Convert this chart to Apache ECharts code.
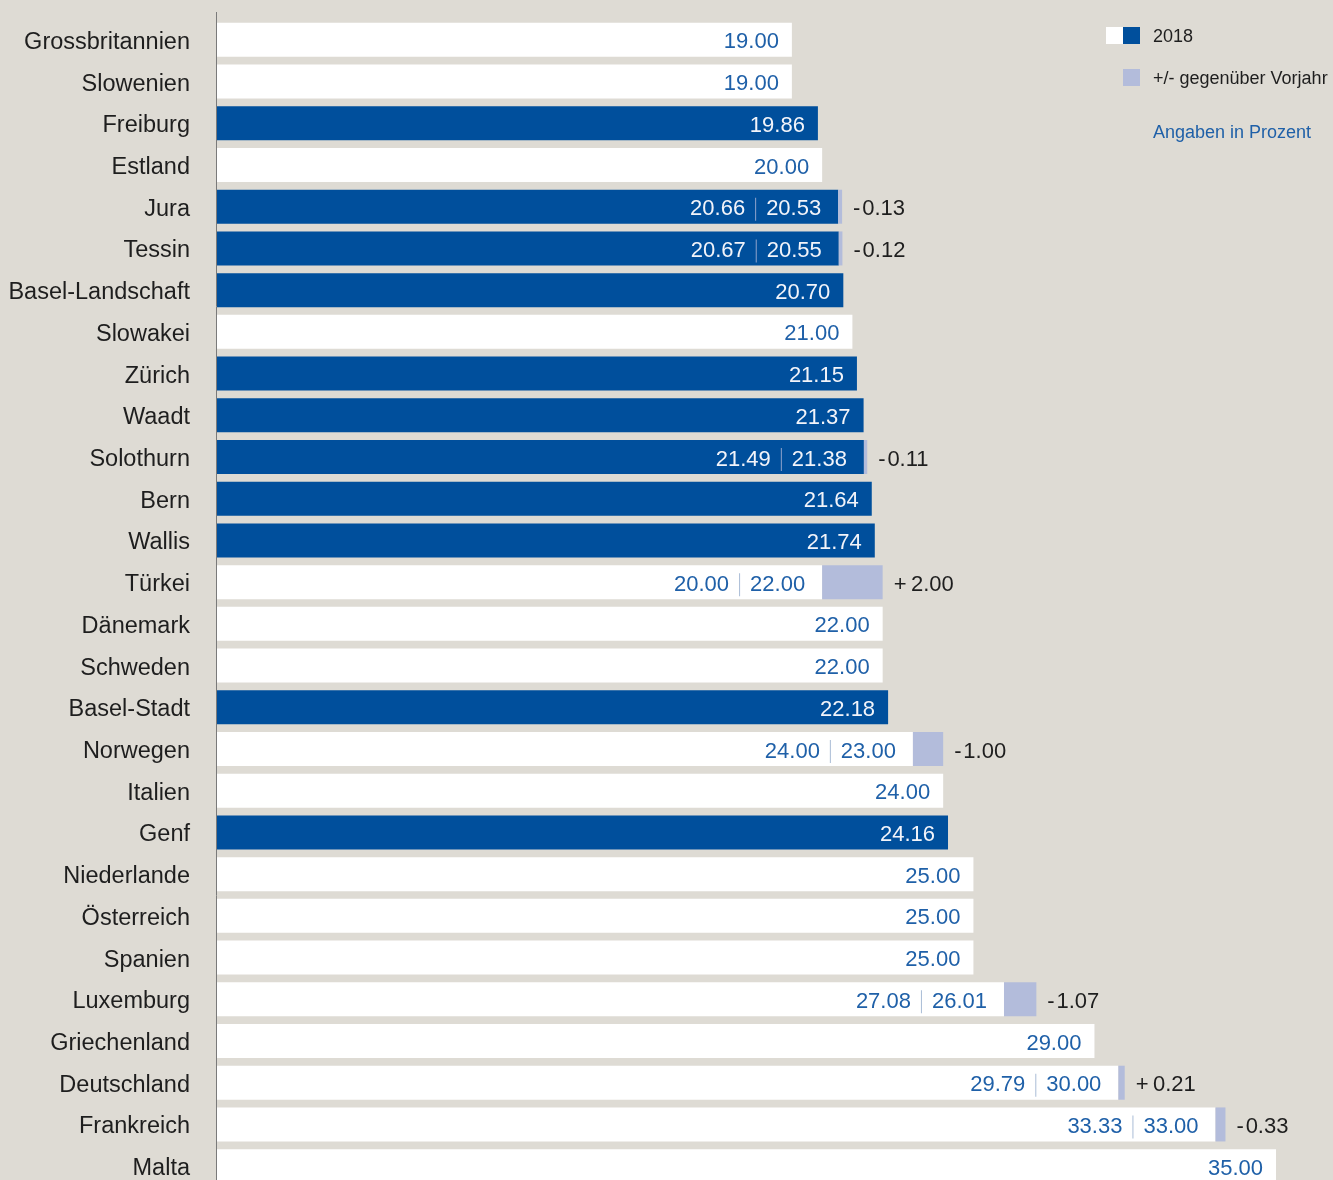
<!DOCTYPE html>
<html>
<head>
<meta charset="utf-8">
<script src="https://cdn.jsdelivr.net/npm/echarts@6/dist/echarts.min.js"></script>
<style>
  html, body { margin: 0; padding: 0; overflow: hidden; background: #dedbd4; }
  #chart { width: 1333px; height: 1190px; }
</style>
</head>
<body>
<div id="chart"></div>
<script>
// Steuersätze (Gewinnsteuer) 2018, Kantone und Länder
const categories = [
  'Grossbritannien', 'Slowenien', 'Freiburg', 'Estland', 'Jura', 'Tessin',
  'Basel-Landschaft', 'Slowakei', 'Zürich', 'Waadt', 'Solothurn', 'Bern',
  'Wallis', 'Türkei', 'Dänemark', 'Schweden', 'Basel-Stadt', 'Norwegen',
  'Italien', 'Genf', 'Niederlande', 'Österreich', 'Spanien', 'Luxemburg',
  'Griechenland', 'Deutschland', 'Frankreich', 'Malta'
];
// Werte 2018
const rate2018 = [
  19.00, 19.00, 19.86, 20.00, 20.53, 20.55,
  20.70, 21.00, 21.15, 21.37, 21.38, 21.64,
  21.74, 22.00, 22.00, 22.00, 22.18, 23.00,
  24.00, 24.16, 25.00, 25.00, 25.00, 26.01,
  29.00, 30.00, 33.00, 35.00
];
// Werte Vorjahr (nur wo eine Veränderung besteht)
const ratePrev = [
  null, null, null, null, 20.66, 20.67,
  null, null, null, null, 21.49, null,
  null, 20.00, null, null, null, 24.00,
  null, null, null, null, null, 27.08,
  null, 29.79, 33.33, null
];
// Schweizer Kantone (dunkelblau dargestellt)
const cantons = [
  'Freiburg', 'Jura', 'Tessin', 'Basel-Landschaft', 'Zürich', 'Waadt',
  'Solothurn', 'Bern', 'Wallis', 'Basel-Stadt', 'Genf'
];

const BLUE = '#004f9c';
const LAV = '#b3bcdb';
const TXT_BLUE = '#1f60a8';
const FONT = '"Liberation Sans", Arial, Helvetica, sans-serif';

const hasPrev = i => ratePrev[i] !== null;
const baseData = rate2018.map((v, i) => hasPrev(i) ? Math.min(v, ratePrev[i]) : v);
const diffData = rate2018.map((v, i) => hasPrev(i) ? +Math.abs(v - ratePrev[i]).toFixed(2) : null);
const fmt = v => v.toFixed(2);
const fmtDelta = d => (d > 0 ? '+\u2009' : '-\u200A') + Math.abs(d).toFixed(2);

const chart = echarts.init(document.getElementById('chart'), null, { renderer: 'canvas' });

chart.setOption({
  backgroundColor: '#dedbd4',
  animation: false,
  textStyle: { fontFamily: FONT },
  grid: { left: 217, right: 57, top: 19, bottom: 3 },
  xAxis: { type: 'value', min: 0, max: 35, show: false },
  yAxis: {
    type: 'category',
    inverse: true,
    data: categories,
    axisTick: { show: false },
    // the axis rule is drawn a little taller than the grid, see graphic below
    axisLine: { show: false },
    axisLabel: {
      margin: 27,
      formatter: v => '{c|' + v + '}',
      rich: {
        c: { color: '#1e1e1e', fontSize: 23.5, fontFamily: FONT, padding: [5, 0, 0, 0] }
      }
    }
  },
  series: [
    {
      name: '2018',
      type: 'bar',
      stack: 'rate',
      barWidth: 34,
      data: baseData,
      itemStyle: {
        color: p => cantons.includes(p.name) ? BLUE : '#ffffff'
      },
      label: {
        show: true,
        position: 'insideRight',
        distance: 13,
        padding: [5, 0, 0, 0],
        formatter: p => {
          const i = p.dataIndex;
          const dark = cantons.includes(p.name);
          const k = dark ? 'd' : 'l';
          if (hasPrev(i)) {
            return '{' + k + 'a|' + fmt(ratePrev[i]) + '}{' + k + 's|}{' + k + 'b|' + fmt(rate2018[i]) + '}';
          }
          return '{' + k + '|' + fmt(rate2018[i]) + '}';
        },
        rich: {
          l:  { color: TXT_BLUE, fontSize: 22, fontFamily: FONT },
          la: { color: TXT_BLUE, fontSize: 22, fontFamily: FONT, padding: [0, 10, 0, 0] },
          lb: { color: TXT_BLUE, fontSize: 22, fontFamily: FONT, padding: [0, 4, 0, 10] },
          ls: { width: 1, height: 23, backgroundColor: '#a9bcd6' },
          d:  { color: '#f2f4fa', fontSize: 22, fontFamily: FONT },
          da: { color: '#f2f4fa', fontSize: 22, fontFamily: FONT, padding: [0, 10, 0, 0] },
          db: { color: '#f2f4fa', fontSize: 22, fontFamily: FONT, padding: [0, 4, 0, 10] },
          ds: { width: 1, height: 23, backgroundColor: '#8fa3cc' }
        }
      }
    },
    {
      name: '+/- gegenüber Vorjahr',
      type: 'bar',
      stack: 'rate',
      barWidth: 34,
      data: diffData,
      itemStyle: { color: LAV },
      label: {
        show: true,
        position: 'right',
        distance: 11,
        formatter: p => {
          const i = p.dataIndex;
          return '{t|' + fmtDelta(rate2018[i] - ratePrev[i]) + '}';
        },
        rich: {
          t: { color: '#1e1e1e', fontSize: 22, fontFamily: FONT, padding: [5, 0, 0, 0] }
        }
      }
    }
  ],
  graphic: [
    { type: 'line', shape: { x1: 216.5, y1: 12, x2: 216.5, y2: 1190 }, style: { stroke: '#7a7a7a', lineWidth: 1 } },
    { type: 'rect', shape: { x: 1106, y: 27, width: 17, height: 17 }, style: { fill: '#ffffff' } },
    { type: 'rect', shape: { x: 1123, y: 27, width: 17, height: 17 }, style: { fill: BLUE } },
    { type: 'text', x: 1153, y: 37.5, style: { text: '2018', fill: '#1e1e1e', fontSize: 18, fontFamily: FONT, verticalAlign: 'middle' } },
    { type: 'rect', shape: { x: 1123, y: 69, width: 17, height: 17 }, style: { fill: LAV } },
    { type: 'text', x: 1153, y: 79.5, style: { text: '+/- gegenüber Vorjahr', fill: '#1e1e1e', fontSize: 18, fontFamily: FONT, verticalAlign: 'middle' } },
    { type: 'text', x: 1153, y: 133, style: { text: 'Angaben in Prozent', fill: TXT_BLUE, fontSize: 18, fontFamily: FONT, verticalAlign: 'middle' } }
  ]
});
</script>
</body>
</html>
